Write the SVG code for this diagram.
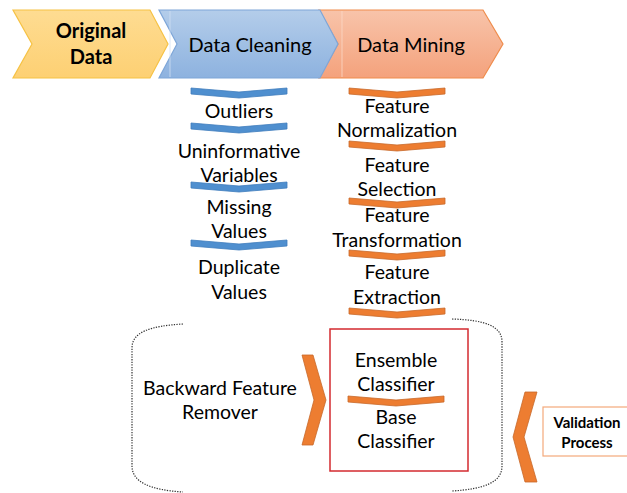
<svg xmlns="http://www.w3.org/2000/svg" width="627" height="493" viewBox="0 0 627 493">
<defs>
<linearGradient id="gY" x1="0" y1="0" x2="0" y2="1"><stop offset="0" stop-color="#fedc92"/><stop offset="1" stop-color="#fdd073"/></linearGradient>
<linearGradient id="gB" x1="0" y1="0" x2="0" y2="1"><stop offset="0" stop-color="#b4cdea"/><stop offset="1" stop-color="#8db2df"/></linearGradient>
<linearGradient id="gO" x1="0" y1="0" x2="0" y2="1"><stop offset="0" stop-color="#f8c4aa"/><stop offset="1" stop-color="#f4a27c"/></linearGradient>
<polygon id="chev" points="0,0 48,4 96,0 96,6 48,10 0,6"/>
</defs>
<style>
text{font-family:Lato,"Open Sans","Liberation Sans",sans-serif;fill:#000;text-anchor:middle}
.t{font-size:19.5px}
.h{font-size:20px}
.b{font-weight:bold}
.cb{fill:#4f8fcf;stroke:#3f7cbc;stroke-width:0.8}
.co{fill:#ed7d31;stroke:#c8682a;stroke-width:0.8}
.dot{fill:none;stroke:#333;stroke-width:1.2;stroke-dasharray:1.3 1.3}
</style>
<g id="data-mining">
<polygon points="319,10 483,10 503,44 483,78 319,78 338,44" fill="url(#gO)" stroke="#ef8c4c" stroke-width="1.2"/>
<line x1="342" y1="11" x2="342" y2="77" stroke="#fbd8c6" stroke-width="0.8"/>
<text class="h" x="411" y="52">Data Mining</text>
</g>
<g id="data-cleaning">
<polygon points="159,10 320,10 338,44 320,78 159,78 177,44" fill="url(#gB)" stroke="#7ea6d8" stroke-width="1.2"/>
<line x1="170" y1="11" x2="170" y2="77" stroke="#d0e0f2" stroke-width="0.8"/>
<text class="h" x="250" y="52">Data Cleaning</text>
</g>
<g id="original-data">
<polygon points="13,10 150,10 168,44 150,78 13,78 32,44" fill="url(#gY)" stroke="#f6c244" stroke-width="1.2"/>
<text class="h b" x="91" y="38">Original</text>
<text class="h b" x="91" y="64">Data</text>
</g>
<g id="connectors">
<use href="#chev" class="cb" x="191" y="88"/>
<use href="#chev" class="cb" x="191" y="123"/>
<use href="#chev" class="cb" x="191" y="182"/>
<use href="#chev" class="cb" x="191" y="240"/>
<use href="#chev" class="co" x="349" y="88"/>
<use href="#chev" class="co" x="349" y="141"/>
<use href="#chev" class="co" x="349" y="198"/>
<use href="#chev" class="co" x="349" y="250"/>
<use href="#chev" class="co" x="349" y="308"/>
<use href="#chev" class="co" x="348" y="396"/>
<polygon class="co" points="302,355 313,355 326,400 313,445 302,445 314,400"/>
<polygon class="co" points="537,392 525,392 513,437 525,482 537,482 524,437"/>
<path class="dot" d="M183,324 C150,326 132,332 132,348 L132,466 C132,482 150,490 183,492"/>
<path class="dot" d="M452,319 C485,320 502,326 502,342 L502,466 C502,482 485,489 452,491"/>
</g>
<g id="outliers"><text class="t" x="239" y="118">Outliers</text></g>
<g id="uninformative"><text class="t" x="239" y="158">Uninformative</text><text class="t" x="239" y="182">Variables</text></g>
<g id="missing"><text class="t" x="239" y="214">Missing</text><text class="t" x="239" y="238">Values</text></g>
<g id="duplicate"><text class="t" x="239" y="274">Duplicate</text><text class="t" x="239" y="299">Values</text></g>
<g id="normalization"><text class="t" x="397" y="113">Feature</text><text class="t" x="397" y="137">Normalization</text></g>
<g id="selection"><text class="t" x="397" y="172">Feature</text><text class="t" x="397" y="196">Selection</text></g>
<g id="transformation"><text class="t" x="397" y="222">Feature</text><text class="t" x="397" y="247">Transformation</text></g>
<g id="extraction"><text class="t" x="397" y="279">Feature</text><text class="t" x="397" y="304">Extraction</text></g>
<g id="backward"><text class="t" x="220" y="395">Backward Feature</text><text class="t" x="220" y="419">Remover</text></g>
<g id="classifier-box">
<rect x="330" y="329" width="138" height="142" fill="none" stroke="#d32a2f" stroke-width="1.5"/>
<text class="t" x="396" y="367">Ensemble</text><text class="t" x="396" y="391">Classifier</text>
<text class="t" x="396" y="424">Base</text><text class="t" x="396" y="448">Classifier</text>
</g>
<g id="validation">
<rect x="543" y="407" width="90" height="49" fill="#fff" stroke="#f4a97b" stroke-width="1.2"/>
<text class="b" style="font-size:15px" x="587" y="428">Validation</text>
<text class="b" style="font-size:15px" x="587" y="448">Process</text>
</g>
</svg>
